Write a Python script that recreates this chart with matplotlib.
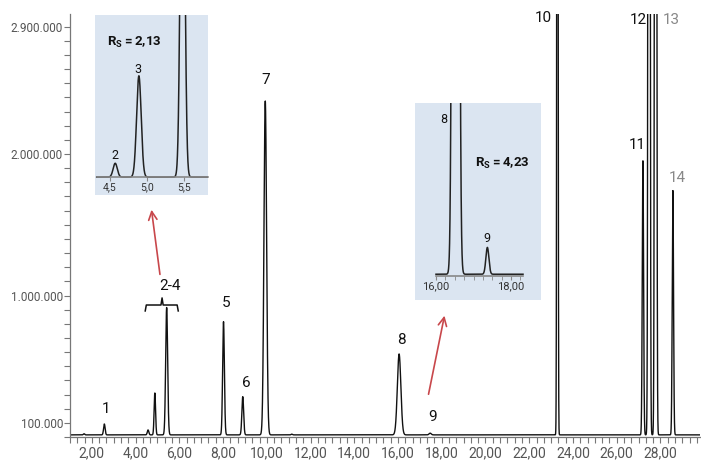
import matplotlib.pyplot as plt
import numpy as np
from matplotlib.ticker import FixedLocator, MultipleLocator, FuncFormatter

plt.rcParams['font.family'] = ['Roboto', 'DejaVu Sans']
plt.rcParams['mathtext.fontset'] = 'custom'
plt.rcParams['mathtext.rm'] = 'Roboto'
plt.rcParams['mathtext.bf'] = 'Roboto:bold'

# main chromatogram: peak table (retention time [min], height [counts], width sigma [min])
peak_time = [1.64, 2.57, 4.57, 4.88, 5.42, 8.02, 8.90, 9.93, 11.14, 16.05, 17.47,
             23.29, 27.20, 27.48, 27.78, 28.57]
peak_height = [8000, 77000, 35000, 296000, 900000, 800000, 270000, 2360000, 5000,
               572000, 12000, 12000000, 1937000, 20000000, 20000000, 1727000]
peak_sigma = [0.03, 0.035, 0.035, 0.033, 0.045, 0.04, 0.04, 0.06, 0.03, 0.08, 0.05,
              0.022, 0.03, 0.032, 0.032, 0.03]
baseline = 15000

# peak labels: text, time, height, colour
label_text = ['1', '2-4', '5', '6', '7', '8', '9', '10', '11', '12', '13', '14']
label_t = [2.66, 5.58, 8.14, 9.05, 9.97, 16.14, 17.57, 22.64, 26.96, 26.99, 28.48, 28.77]
label_v = [198000, 1068000, 947000, 380000, 2524000, 686000, 139000, 2962000,
           2065000, 2950000, 2950000, 1830000]
label_col = ['#111'] * 10 + ['#888', '#888']

# inset 1 (peaks 2-4)
ins1_time = [4.57, 4.89, 5.48]
ins1_height = [41000, 300000, 1350000]
ins1_sigma = [0.028, 0.031, 0.028]
ins1_labels = ['2', '3']
ins1_label_t = [4.57, 4.88]
ins1_label_v = [65000, 320000]

# inset 2 (peaks 8-9), relative units
ins2_time = [16.525, 17.37]
ins2_height = [20.0, 0.155]
ins2_sigma = [0.053, 0.04]
ins2_labels = ['8', '9']
ins2_label_t = [16.2, 17.37]
ins2_label_v = [0.907, 0.214]


def trace(t, times, heights, sigmas, base=0.0):
    y = np.full_like(t, base)
    for c, h, s in zip(times, heights, sigmas):
        y += h * np.exp(-0.5 * ((t - c) / s) ** 2)
    return y


fig = plt.figure(figsize=(7.01, 4.62), dpi=100)
ax = fig.add_axes([70 / 701, 1 - 437 / 462, 630 / 701, 423 / 462])

t = np.linspace(1.0, 29.9, 12000)
ax.plot(t, trace(t, peak_time, peak_height, peak_sigma, baseline), color='#111', lw=1.0)

ax.set_xlim(1.0, 29.81)
ax.set_ylim(0, 2990000)
for s in ['top', 'right']:
    ax.spines[s].set_visible(False)
for s in ['left', 'bottom']:
    ax.spines[s].set_color('#777')
    ax.spines[s].set_linewidth(0.9)

ax.xaxis.set_major_locator(MultipleLocator(2))
ax.xaxis.set_minor_locator(MultipleLocator(1 / 3))
ax.xaxis.set_major_formatter(FuncFormatter(lambda v, p: '{:.2f}'.format(v).replace('.', ',')))
ax.yaxis.set_major_locator(FixedLocator([100000, 1000000, 2000000, 2900000]))
ax.yaxis.set_minor_locator(MultipleLocator(100000))
ax.yaxis.set_major_formatter(FuncFormatter(lambda v, p: '{:,.0f}'.format(v).replace(',', '.')))
ax.tick_params(axis='both', which='both', length=4, width=0.8, color='#777')
ax.tick_params(axis='x', labelsize=10, labelcolor='#555', pad=3)
ax.tick_params(axis='y', labelsize=8.5, labelcolor='#555', pad=1)

for txt, x, y, c in zip(label_text, label_t, label_v, label_col):
    ax.text(x, y, txt, fontsize=11, color=c, ha='center', va='center')

# bracket over peaks 2-4
br_left, br_right, br_mid = 4.44, 5.95, 5.21
br_y, br_drop, br_rise = 933000, 891000, 983000
ax.plot([br_left, br_left + 0.05, br_mid - 0.05, br_mid, br_mid + 0.05, br_right - 0.05, br_right],
        [br_drop, br_y, br_y, br_rise, br_y, br_y, br_drop], color='#111', lw=1.1)

# red arrows pointing to the insets
arrow_col = '#c8474b'
ax.annotate('', xy=(4.71, 1626000), xytext=(5.13, 1130000),
            arrowprops=dict(arrowstyle='->', color=arrow_col, lw=1.2, mutation_scale=15))
ax.annotate('', xy=(18.15, 877000), xytext=(17.37, 283000),
            arrowprops=dict(arrowstyle='->', color=arrow_col, lw=1.2, mutation_scale=15))

box_col = '#dbe5f1'

# inset 1
ax1 = fig.add_axes([95 / 701, 1 - 195 / 462, 113 / 701, 180 / 462], facecolor=box_col)
t1 = np.linspace(4.32, 5.82, 1500)
ax1.plot(t1, trace(t1, ins1_time, ins1_height, ins1_sigma), color='#222', lw=1.1)
ax1.set_xlim(4.297, 5.824)
ax1.set_ylim(-53000, 480000)
for s in ['top', 'right', 'left']:
    ax1.spines[s].set_visible(False)
ax1.spines['bottom'].set_position(('data', 0))
ax1.spines['bottom'].set_bounds(4.32, 5.824)
ax1.spines['bottom'].set_color('#888')
ax1.spines['bottom'].set_linewidth(1.2)
ax1.set_yticks([])
ax1.set_xticks([4.5, 5.0, 5.5])
ax1.xaxis.set_major_formatter(FuncFormatter(lambda v, p: '{:.1f}'.format(v).replace('.', ',')))
ax1.tick_params(axis='x', length=3, color='#888', labelsize=7.5, labelcolor='#333', pad=1)
for txt, x, y in zip(ins1_labels, ins1_label_t, ins1_label_v):
    ax1.text(x, y, txt, fontsize=9, color='#111', ha='center', va='center')
ax1.text(4.46, 400000, r'$\mathbf{R_S = 2{,}13}$', fontsize=9.5, color='#111', ha='left', va='center')

# inset 2
ax2 = fig.add_axes([415 / 701, 1 - 300 / 462, 126 / 701, 197 / 462], facecolor=box_col)
t2 = np.linspace(16.0, 18.32, 2000)
ax2.plot(t2, trace(t2, ins2_time, ins2_height, ins2_sigma, 0.01), color='#222', lw=1.1)
ax2.set_xlim(15.44, 18.8)
ax2.set_ylim(-0.139, 1.0)
for s in ['top', 'right', 'left']:
    ax2.spines[s].set_visible(False)
ax2.spines['bottom'].set_position(('data', 0))
ax2.spines['bottom'].set_bounds(16.0, 18.32)
ax2.spines['bottom'].set_color('#888')
ax2.spines['bottom'].set_linewidth(1.2)
ax2.set_yticks([])
ax2.set_xticks([16.0, 18.0])
ax2.xaxis.set_minor_locator(FixedLocator(np.arange(16.25, 18.3, 0.25)))
ax2.xaxis.set_major_formatter(FuncFormatter(lambda v, p: '{:.2f}'.format(v).replace('.', ',')))
ax2.tick_params(axis='x', which='both', length=3, color='#888', labelsize=8, labelcolor='#333', pad=1)
for txt, x, y in zip(ins2_labels, ins2_label_t, ins2_label_v):
    ax2.text(x, y, txt, fontsize=9, color='#111', ha='center', va='center')
ax2.text(17.04, 0.653, r'$\mathbf{R_S = 4{,}23}$', fontsize=9.5, color='#111', ha='left', va='center')

fig.savefig('out.png', dpi=100)
